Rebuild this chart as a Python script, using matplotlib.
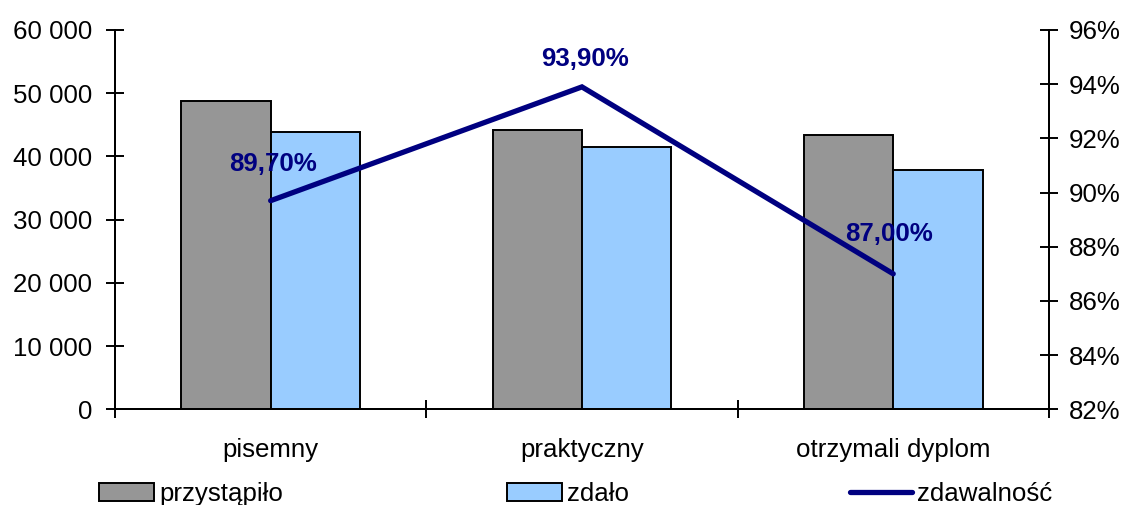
import numpy as np
import matplotlib.pyplot as plt
from matplotlib.ticker import FuncFormatter, FixedLocator
from matplotlib.patches import Patch
from matplotlib.lines import Line2D

plt.rcParams['font.family'] = ['Liberation Sans', 'DejaVu Sans']
FS = 18.6

categories = ['pisemny', 'praktyczny', 'otrzymali dyplom']
przystapilo = [48800, 44200, 43450]
zdalo = [43800, 41550, 37850]
zdawalnosc = [89.7, 93.9, 87.0]
label_text = ['89,70%', '93,90%', '87,00%']

GRAY = '#969696'
BLUE = '#99ccff'
NAVY = '#000080'

fig = plt.figure(figsize=(11.23, 5.05), dpi=100)
ax = fig.add_axes([0.1024, 0.1895, 0.8316, 0.7511])
ax2 = ax.twinx()

x = np.arange(len(categories))
w = 0.287
ax.bar(x - w / 2, przystapilo, w, color=GRAY, edgecolor='black', linewidth=1.4)
ax.bar(x + w / 2, zdalo, w, color=BLUE, edgecolor='black', linewidth=1.4)

ax.set_xlim(-0.5, 2.5)
ax.set_ylim(0, 60000)
ax.set_yticks(np.arange(0, 60001, 10000))
ax.yaxis.set_major_formatter(FuncFormatter(lambda v, p: f'{int(v):,}'.replace(',', ' ')))
ax.set_xticks(x)
ax.set_xticklabels(categories)
ax.xaxis.set_minor_locator(FixedLocator([-0.5, 0.5, 1.5, 2.5]))
ax.tick_params(axis='x', which='major', length=0, pad=21, labelsize=FS)
ax.tick_params(axis='x', which='minor', direction='inout', length=13, width=1.4)
ax.tick_params(axis='y', direction='inout', length=13, width=1.4, pad=10, labelsize=FS)

ax2.plot(x, zdawalnosc, color=NAVY, linewidth=3.8, solid_capstyle='round',
         solid_joinstyle='miter')
ax2.set_ylim(82, 96)
ax2.set_yticks(np.arange(82, 97, 2))
ax2.yaxis.set_major_formatter(FuncFormatter(lambda v, p: f'{int(v)}%'))
ax2.tick_params(axis='y', direction='inout', length=13, width=1.4, pad=8, labelsize=FS)

# data labels above the line points
offsets = [(2, 37), (3, 28), (-4, 40)]
for xi, yi, t, (dx, dy) in zip(x, zdawalnosc, label_text, offsets):
    ax2.annotate(t, (xi, yi), xytext=(dx, dy), textcoords='offset pixels',
                 ha='center', va='center', fontsize=FS, fontweight='bold', color=NAVY)

for a in (ax, ax2):
    a.spines['top'].set_visible(False)
    for s in ('left', 'right', 'bottom'):
        a.spines[s].set_linewidth(1.4)

# legend entries placed separately along the bottom
legend_items = [
    (Patch(facecolor=GRAY, edgecolor='black', linewidth=1.4), 'przystąpiło', 99, 2.13),
    (Patch(facecolor=BLUE, edgecolor='black', linewidth=1.4), 'zdało', 507, 2.13),
    (Line2D([], [], color=NAVY, linewidth=3.8, solid_capstyle='round'), 'zdawalność', 850, 2.4),
]
for handle, lab, px, hl in legend_items:
    fig.legend([handle], [lab], loc='center left', bbox_to_anchor=(px / 1123, 1 - 494 / 505),
               frameon=False, fontsize=FS, borderpad=0, borderaxespad=0,
               handlelength=hl, handleheight=0.7, handletextpad=0.2)

fig.savefig('out.png', dpi=100)
